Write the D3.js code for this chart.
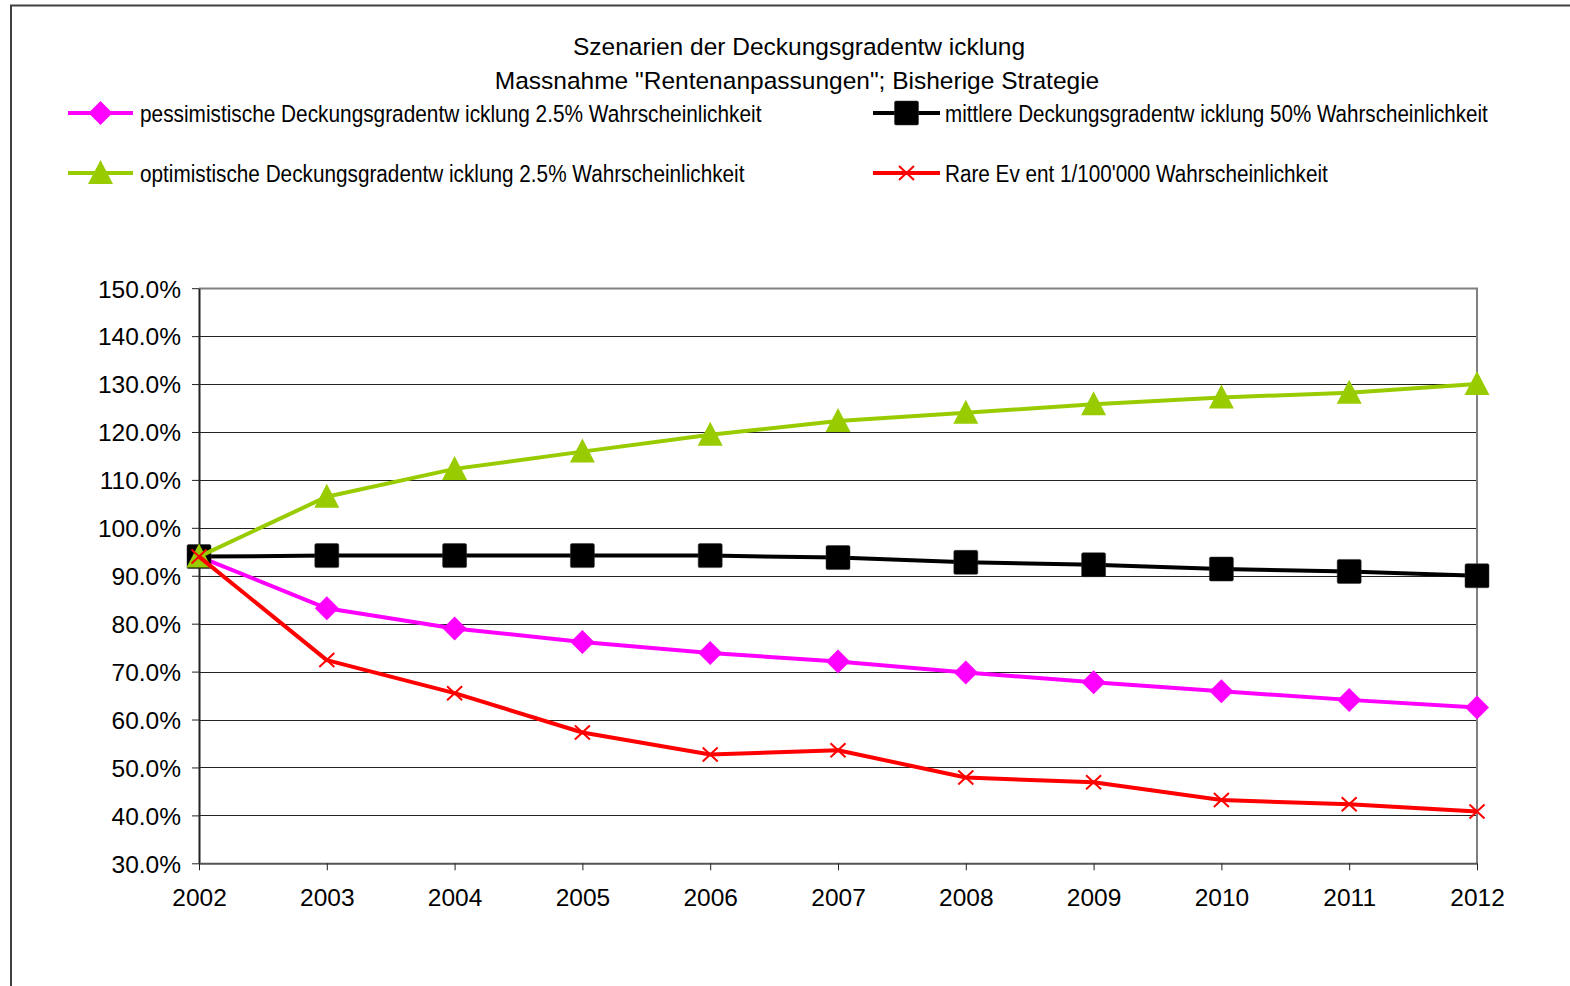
<!DOCTYPE html>
<html>
<head>
<meta charset="utf-8">
<script src="https://cdn.jsdelivr.net/npm/d3@7/dist/d3.min.js"></script>
<style>
  html, body { margin: 0; padding: 0; background: #fff; }
  svg { display: block; }
  text { font-family: "Liberation Sans", Arial, sans-serif; fill: #000; }
</style>
</head>
<body>
<svg id="chart" width="1570" height="986"></svg>
<script>
// ---------- data ----------
const years = [2002, 2003, 2004, 2005, 2006, 2007, 2008, 2009, 2010, 2011, 2012];
const pessimistisch = [94.0, 83.2, 79.0, 76.2, 73.9, 72.1, 69.8, 67.8, 65.9, 64.1, 62.5];
const mittlere      = [94.0, 94.2, 94.2, 94.2, 94.2, 93.8, 92.8, 92.3, 91.4, 90.9, 90.0];
const optimistisch  = [94.0, 106.5, 112.3, 115.9, 119.4, 122.3, 124.0, 125.8, 127.2, 128.2, 130.0];
const rareEvent     = [94.0, 72.4, 65.5, 57.3, 52.7, 53.6, 47.9, 46.9, 43.2, 42.3, 40.8];
const yTicks = [30, 40, 50, 60, 70, 80, 90, 100, 110, 120, 130, 140, 150];
const titleLines = ["Szenarien der Deckungsgradentw icklung", "Massnahme \"Rentenanpassungen\"; Bisherige Strategie"];
const seriesNames = [
  "pessimistische Deckungsgradentw icklung 2.5% Wahrscheinlichkeit",
  "mittlere Deckungsgradentw icklung 50% Wahrscheinlichkeit",
  "optimistische Deckungsgradentw icklung 2.5% Wahrscheinlichkeit",
  "Rare Ev ent 1/100'000 Wahrscheinlichkeit"
];

const series = [
  { name: seriesNames[0], values: pessimistisch, color: "#FF00FF", marker: "diamond" },
  { name: seriesNames[1], values: mittlere, color: "#000000", marker: "square" },
  { name: seriesNames[2], values: optimistisch, color: "#99CC00", marker: "triangle" },
  { name: seriesNames[3], values: rareEvent, color: "#FF0000", marker: "x" }
];

// ---------- layout ----------
const svg = d3.select("#chart");
const x = d3.scaleLinear().domain([2002, 2012]).range([199, 1477]);
const y = d3.scaleLinear().domain([30, 150]).range([863.3, 288.2]);

// outer frame
svg.append("path")
  .attr("d", "M11,986 L11,5.5 L1570,5.5")
  .attr("fill", "none").attr("stroke", "#404040").attr("stroke-width", 2);

// title
svg.append("text").attr("x", 799).attr("y", 55).attr("text-anchor", "middle")
  .attr("font-size", 24.5).text(titleLines[0]);
svg.append("text").attr("x", 797).attr("y", 89).attr("text-anchor", "middle")
  .attr("font-size", 24.5).text(titleLines[1]);

// gridlines
svg.append("g").selectAll("line").data(yTicks.filter(d => d > 30 && d < 150)).join("line")
  .attr("x1", x(2002)).attr("x2", x(2012))
  .attr("y1", d => Math.round(y(d)) + 0.5).attr("y2", d => Math.round(y(d)) + 0.5)
  .attr("stroke", "#222").attr("stroke-width", 1);

// plot border top/right (gray)
svg.append("path")
  .attr("d", `M${x(2002)},${Math.round(y(150)) + 0.5} L${x(2012)},${Math.round(y(150)) + 0.5} L${x(2012)},${y(30)}`)
  .attr("fill", "none").attr("stroke", "#808080").attr("stroke-width", 2);

// y axis
const yAxis = d3.axisLeft(y).tickValues(yTicks).tickSize(7).tickSizeOuter(0)
  .tickFormat(d => d.toFixed(1) + "%");
const gy = svg.append("g").attr("transform", `translate(${x(2002)},0)`).call(yAxis);
gy.select(".domain").attr("stroke", "#222").attr("stroke-width", 2);
gy.selectAll(".tick line").attr("stroke", "#222");
gy.selectAll(".tick text").attr("font-size", 24.5).attr("x", -18).attr("dy", "0.36em")
  .attr("font-family", "Liberation Sans, Arial, sans-serif").attr("fill", "#000");

// x axis
const xAxis = d3.axisBottom(x).tickValues(years).tickSize(7).tickSizeOuter(0).tickFormat(d3.format("d"));
const gx = svg.append("g").attr("transform", `translate(0,${y(30)})`).call(xAxis);
gx.select(".domain").attr("stroke", "#555").attr("stroke-width", 2);
gx.selectAll(".tick line").attr("stroke", "#222");
gx.selectAll(".tick text").attr("font-size", 24.5).attr("y", 25).attr("dy", "0.71em")
  .attr("font-family", "Liberation Sans, Arial, sans-serif").attr("fill", "#000");

// markers
function drawMarker(g, type, cx, cy, color) {
  if (type === "square") {
    g.append("rect").attr("x", cx - 12).attr("y", cy - 12).attr("width", 24).attr("height", 24)
      .attr("rx", 1.5).attr("fill", color).attr("stroke", "#333").attr("stroke-width", 0.5);
  } else if (type === "diamond") {
    g.append("path").attr("d", `M${cx},${cy - 12} L${cx + 12},${cy} L${cx},${cy + 12} L${cx - 12},${cy} Z`)
      .attr("fill", color);
  } else if (type === "triangle") {
    g.append("path").attr("d", `M${cx},${cy - 13} L${cx + 12.5},${cy + 11} L${cx - 12.5},${cy + 11} Z`)
      .attr("fill", color);
  } else if (type === "x") {
    g.append("path").attr("d", `M${cx - 7.5},${cy - 7} L${cx + 7.5},${cy + 7} M${cx + 7.5},${cy - 7} L${cx - 7.5},${cy + 7}`)
      .attr("stroke", color).attr("stroke-width", 2).attr("fill", "none");
  }
}

const line = d3.line().x((d, i) => x(years[i])).y(d => y(d));
series.forEach(s => {
  const g = svg.append("g");
  g.append("path").datum(s.values).attr("d", line)
    .attr("fill", "none").attr("stroke", s.color).attr("stroke-width", 4).attr("stroke-linejoin", "round");
  s.values.forEach((v, i) => drawMarker(g, s.marker, x(years[i]), y(v), s.color));
});

// legend (condensed text via horizontal scale to match the narrow font)
const legendPos = [
  { lx1: 68, lx2: 133, ly: 113, tx: 140, tw: 622 },
  { lx1: 873, lx2: 940, ly: 113, tx: 945, tw: 543 },
  { lx1: 68, lx2: 133, ly: 173, tx: 140, tw: 605 },
  { lx1: 873, lx2: 940, ly: 173, tx: 945, tw: 383 }
];
series.forEach((s, i) => {
  const p = legendPos[i];
  const g = svg.append("g");
  g.append("line").attr("x1", p.lx1).attr("x2", p.lx2).attr("y1", p.ly).attr("y2", p.ly)
    .attr("stroke", s.color).attr("stroke-width", 4);
  drawMarker(g, s.marker, (p.lx1 + p.lx2) / 2, p.ly, s.color);
  const t = g.append("text").attr("x", 0).attr("y", 0).attr("font-size", 24.5)
    .attr("font-family", "Liberation Sans Narrow, Arial Narrow, Liberation Sans, sans-serif")
    .text(s.name);
  const natural = t.node().getComputedTextLength();
  const k = p.tw / natural;
  t.attr("transform", `translate(${p.tx},${p.ly + 8.5}) scale(${k},1)`);
});
</script>
</body>
</html>
